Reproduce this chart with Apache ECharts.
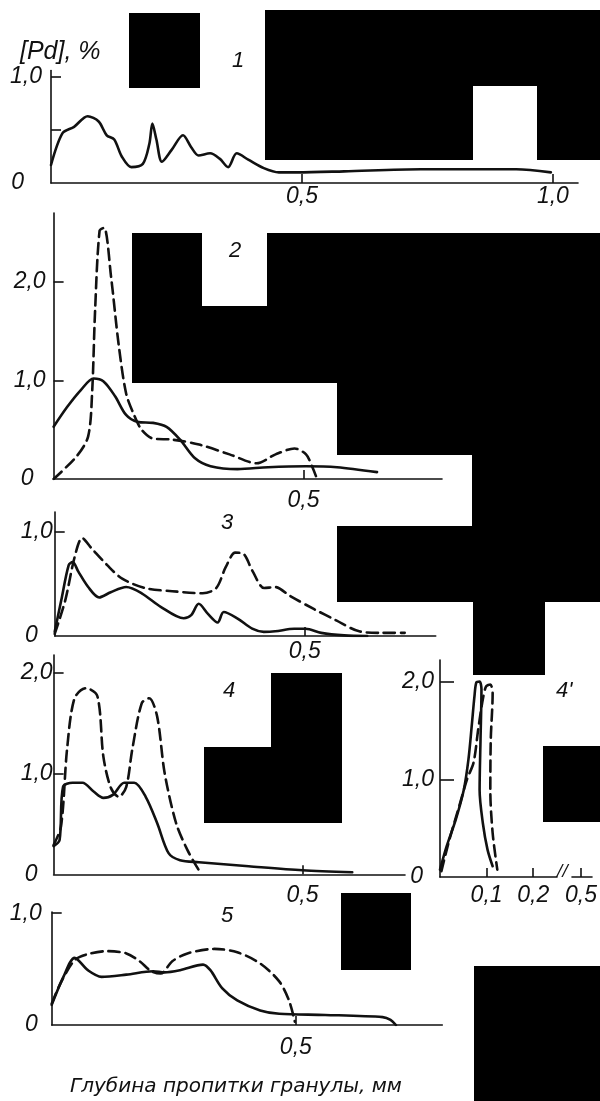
<!DOCTYPE html>
<html><head><meta charset="utf-8">
<script src="https://cdn.jsdelivr.net/npm/echarts@6/dist/echarts.min.js"></script>
<style>html,body{margin:0;padding:0;background:#fff}#c{width:600px;height:1101px}</style>
</head><body><div id="c"></div>
<script>
// ---- data (x: depth, mm; y: [Pd], %) ----
const p1Solid = [[0,0.17],[0.023,0.47],[0.046,0.53],[0.073,0.63],[0.095,0.58],[0.111,0.45],[0.126,0.41],[0.141,0.25],[0.160,0.15],[0.183,0.18],[0.196,0.37],[0.202,0.56],[0.21,0.41],[0.221,0.20],[0.24,0.31],[0.263,0.45],[0.279,0.34],[0.294,0.26],[0.317,0.28],[0.336,0.23],[0.353,0.15],[0.37,0.28],[0.393,0.22],[0.424,0.14],[0.454,0.10],[0.491,0.10],[0.584,0.11],[0.737,0.13],[0.927,0.13],[0.996,0.10]];
const p2Solid = [[0,0.53],[0.027,0.73],[0.054,0.90],[0.080,1.02],[0.10,0.99],[0.123,0.84],[0.145,0.65],[0.168,0.58],[0.199,0.57],[0.226,0.53],[0.253,0.40],[0.283,0.21],[0.314,0.13],[0.368,0.10],[0.429,0.12],[0.505,0.13],[0.567,0.12],[0.647,0.07]];
const p2Dashed = [[0,0],[0.046,0.23],[0.069,0.43],[0.077,0.87],[0.083,1.71],[0.092,2.52],[0.101,2.55],[0.115,2.05],[0.13,1.37],[0.145,0.87],[0.161,0.65],[0.176,0.50],[0.199,0.41],[0.237,0.40],[0.291,0.35],[0.352,0.25],[0.406,0.16],[0.444,0.25],[0.482,0.31],[0.505,0.25],[0.517,0.13],[0.527,0]];
const p3Solid = [[0,0.04],[0.013,0.34],[0.028,0.68],[0.036,0.71],[0.047,0.62],[0.067,0.47],[0.089,0.37],[0.112,0.42],[0.143,0.47],[0.174,0.41],[0.212,0.28],[0.258,0.17],[0.273,0.20],[0.288,0.31],[0.307,0.21],[0.326,0.13],[0.338,0.23],[0.365,0.17],[0.395,0.07],[0.418,0.04],[0.441,0.045],[0.479,0.07],[0.502,0.07],[0.533,0.03],[0.579,0.006],[0.625,0]];
const p3Dashed = [[0,0.02],[0.021,0.34],[0.040,0.76],[0.055,0.94],[0.074,0.84],[0.105,0.68],[0.135,0.55],[0.181,0.46],[0.235,0.43],[0.296,0.41],[0.323,0.46],[0.342,0.66],[0.361,0.80],[0.377,0.79],[0.396,0.62],[0.419,0.46],[0.441,0.47],[0.472,0.38],[0.518,0.26],[0.563,0.15],[0.609,0.045],[0.655,0.03],[0.70,0.03]];
const p4Solid = [[0,0.28],[0.012,0.34],[0.019,0.87],[0.038,0.91],[0.058,0.91],[0.081,0.82],[0.10,0.76],[0.119,0.79],[0.142,0.91],[0.162,0.91],[0.185,0.77],[0.208,0.51],[0.231,0.21],[0.254,0.14],[0.292,0.12],[0.392,0.08],[0.50,0.04],[0.60,0.02]];
const p4Dashed = [[0,0.29],[0.015,0.48],[0.027,1.24],[0.042,1.75],[0.065,1.85],[0.088,1.77],[0.10,1.17],[0.115,0.86],[0.131,0.77],[0.146,0.87],[0.158,1.24],[0.177,1.70],[0.192,1.75],[0.208,1.57],[0.223,1.01],[0.246,0.51],[0.269,0.24],[0.292,0.04]];
const p4pSolid = [[0.0,0.075],[0.014,0.31],[0.034,0.59],[0.051,0.89],[0.061,1.2],[0.068,1.54],[0.074,1.85],[0.078,1.99],[0.085,2.0],[0.089,1.92],[0.087,1.41],[0.085,0.89],[0.092,0.55],[0.102,0.28],[0.113,0.11]];
const p4pDashed = [[0.003,0.06],[0.02,0.38],[0.041,0.72],[0.058,1.0],[0.072,1.17],[0.082,1.51],[0.092,1.82],[0.099,1.95],[0.108,1.97],[0.113,1.88],[0.109,1.41],[0.108,0.89],[0.113,0.45],[0.123,0.075]];
const p5Solid = [[0,0.18],[0.024,0.43],[0.047,0.60],[0.074,0.49],[0.102,0.43],[0.153,0.45],[0.208,0.48],[0.231,0.47],[0.263,0.49],[0.31,0.54],[0.325,0.49],[0.349,0.33],[0.38,0.22],[0.427,0.13],[0.466,0.10],[0.56,0.09],[0.678,0.07],[0.694,0.045],[0.705,0]];
const p5Dashed = [[0,0.19],[0.02,0.39],[0.047,0.58],[0.071,0.63],[0.114,0.66],[0.153,0.64],[0.18,0.57],[0.204,0.48],[0.223,0.46],[0.247,0.57],[0.278,0.64],[0.333,0.68],[0.38,0.65],[0.427,0.55],[0.466,0.39],[0.486,0.22],[0.498,0.03]];

const panelNames = ['1','2','3','4',"4'",'5'];
const xTicks = [[0.5,1.0],[0.5],[0.5],[0.5],[0.1,0.2,0.5],[0.5]];
const yTicks = [[0.5,1.0],[1,2],[1],[1,2],[1,2],[1]];
const yLabels = [[0,1],[0,1,2],[0,1],[0,1,2],[0,1,2],[0,1]];
const yName = '[Pd], %';
const xName = 'Глубина пропитки гранулы, мм';

// ---- layout / styles ----
const INK = '#111';
const FONT = '"Liberation Sans", Arial, sans-serif';
const grids = [
  {left:51, top:70.6, width:527, height:112.4, xMax:1.05, yMax:1.06},
  {left:53.6, top:213, width:388.4, height:266, xMax:0.777, yMax:2.70},
  {left:54.7, top:512, width:381, height:124, xMax:0.762, yMax:1.19},
  {left:53.6, top:655, width:351.4, height:219.3, xMax:0.706, yMax:2.18},
  {left:440, top:660, width:160, height:217, xMax:0.524, yMax:2.22},
  {left:51.7, top:912, width:390.6, height:113, xMax:0.80, yMax:1.01}
];
const yLabMargin = [9,8,2,1,6,10];
const yZeroPad = [18,12,15,15,11,4];
const xLabMargin = [2,10,4,10,7,11];
const yTickLen = [10,10,10,10,14,10];
const titlePos = [[232,50],[229,240],[221,512],[223,680],[556,680],[221,905]];

function fmt(v){ return v===0 ? '0' : (+v).toFixed(1).replace('.', ','); }
const txt = {fontFamily:FONT, fontStyle:'italic', fontSize:23, color:INK};

const option = {
  backgroundColor:'#fff',
  animation:false,
  title: panelNames.map((n,i)=>({text:n, left:titlePos[i][0], top:titlePos[i][1], padding:0,
    textStyle:Object.assign({}, txt, {fontWeight:'normal', fontSize:22})}))
    .concat([{text:yName, left:20, top:40, padding:0, textStyle:Object.assign({}, txt, {fontWeight:'normal', fontSize:25})}]),
  grid: grids.map(g=>({left:g.left, top:g.top, width:g.width, height:g.height, containLabel:false})),
  xAxis: grids.map((g,i)=>{
    const ax = {
      type:'value', gridIndex:i, min:0, max:g.xMax,
      axisLine:{show:true, onZero:false, lineStyle:{color:INK, width:1.6}},
      axisTick:{show:true, inside:true, length:9, customValues:xTicks[i], lineStyle:{color:INK, width:1.6}},
      axisLabel:Object.assign({show:true, customValues:xTicks[i], margin:xLabMargin[i], formatter:fmt}, txt),
      splitLine:{show:false}
    };
    if (i===4) {
      ax.breaks = [{start:0.25, end:0.48, gap:'10%'}];
      ax.breakArea = {show:false};
    }
    if (i===5) {
      ax.name = xName; ax.nameLocation = 'middle'; ax.nameGap = 52;
      ax.nameTextStyle = {fontFamily:'"DejaVu Sans"', fontStyle:'italic', fontSize:20, color:INK, padding:[0,22,0,0]};
    }
    return ax;
  }),
  yAxis: grids.map((g,i)=>({
    type:'value', gridIndex:i, min:0, max:g.yMax,
    axisLine:{show:true, onZero:false, lineStyle:{color:INK, width:1.6}},
    axisTick:{show:true, inside:true, length:yTickLen[i], customValues:yTicks[i], lineStyle:{color:INK, width:1.6}},
    axisLabel:Object.assign({show:true, customValues:yLabels[i], margin:yLabMargin[i],
      formatter:v=> v===0 ? '{z|0}' : fmt(v),
      rich:{z:Object.assign({}, txt, {padding:[0,yZeroPad[i],0,0]})}}, txt),
    splitLine:{show:false}
  })),
  series: []
};

function addSeries(data, idx, dashed){
  option.series.push({
    type:'line', xAxisIndex:idx, yAxisIndex:idx, data:data, showSymbol:false, symbol:'none',
    smooth:0.3, clip:true,
    lineStyle:{color:INK, width:2.6, type: dashed ? [11,6] : 'solid', cap:'round', join:'round'}
  });
}
addSeries(p1Solid,0,false);
addSeries(p2Solid,1,false); addSeries(p2Dashed,1,true);
addSeries(p3Solid,2,false); addSeries(p3Dashed,2,true);
addSeries(p4Solid,3,false); addSeries(p4Dashed,3,true);
addSeries(p4pSolid,4,false); addSeries(p4pDashed,4,true);
addSeries(p5Solid,5,false); addSeries(p5Dashed,5,true);

// redaction boxes and axis-break mark (decoration, not data)
const boxes = [
  [129,13,71,75],
  [265,10,208,150],[473,10,64,76],[537,10,63,150],
  [132,233,70,150],[202,306,65,77],[267,233,333,150],
  [337,383,263,72],[472,455,128,147],[337,526,135,76],[473,602,72,73],
  [271,673,71,150],[204,747,67,76],
  [543,746,57,76],
  [341,893,70,77],
  [474,966,126,135]
];
option.graphic = boxes.map(b=>({type:'rect', z:100, shape:{x:b[0], y:b[1], width:b[2], height:b[3]}, style:{fill:'#000'}}))
  .concat([{type:'text', z:100, x:557, y:864, style:{text:'//', font:'italic 16px "DejaVu Sans"', fill:INK}}]);

const chart = echarts.init(document.getElementById('c'), null, {renderer:'canvas'});
chart.setOption(option);
</script></body></html>
